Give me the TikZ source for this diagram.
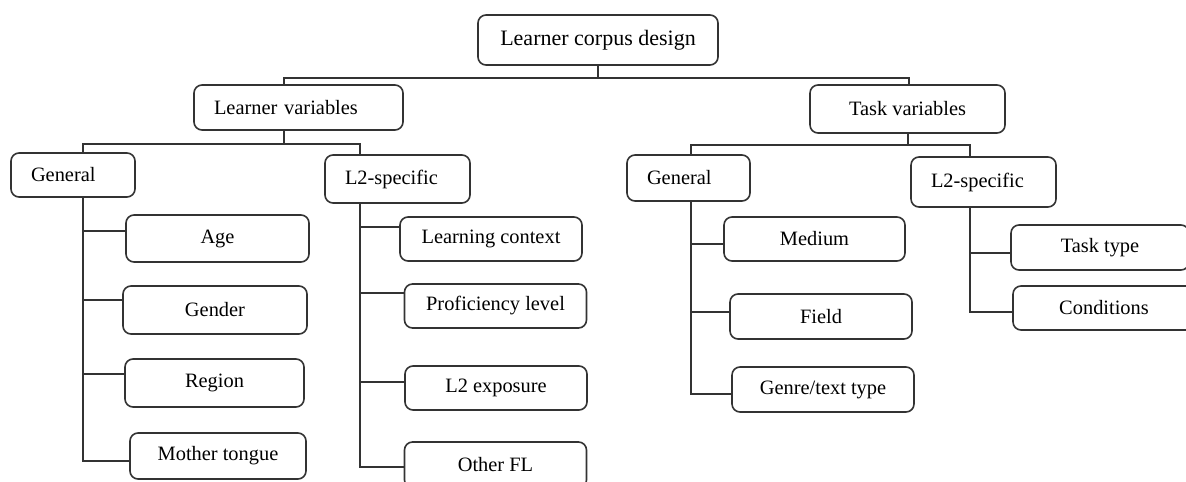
\documentclass[tikz,border=0pt]{standalone}
\usepackage{fontspec}
\setmainfont{Liberation Serif}
\usetikzlibrary{positioning}
\colorlet{boxbrd}{black!80}
\colorlet{linkclr}{black!80}

\begin{document}
\begin{tikzpicture}[
  x=0.5pt, y=-0.5pt,
  every node/.style={font=\fontsize{10.2}{12}\selectfont, align=center},
  box/.style  ={draw=boxbrd, fill=white, line width=0.8pt, rounded corners=4pt, inner sep=2pt},
  rootbox/.style={box, font=\fontsize{11}{13}\selectfont, minimum width=120pt, minimum height=25pt},
  lvl/.style  ={box, align=left, inner xsep=10pt},
  leaf/.style ={box, minimum width=91pt, minimum height=22.5pt},
  link/.style ={draw=linkclr, line width=0.75pt},
]
\clip (0,0) rectangle (1186,481);

%% ── Root ────────────────────────────────────────────────
\node[rootbox] (root) at (598, 40) {Learner corpus design};

%% ── Second level ────────────────────────────────────────
\node[lvl, text width=84.5pt, minimum height=22.5pt] (lv) at (298.5, 107.5) {Learner variables};
\node[box, minimum width=97.5pt, minimum height=24pt] (tv) at (907.5, 109) {Task variables};

\draw[link] (root.south) -- ++(0,12) -| ([xshift=-7.25pt]lv.north);
\draw[link] (root.south) -- ++(0,12) -| ([xshift=0.75pt]tv.north);

%% ════════════════════════════════════════════════════════
%% LEARNER VARIABLES
%% ════════════════════════════════════════════════════════
\node[lvl, text width=42pt, minimum height=22pt]   (genL) at (73, 175)    {General};
\node[lvl, text width=52.5pt, minimum height=24pt] (l2L)  at (397.5, 179) {L2-specific};

\draw[link] ([xshift=-7.25pt]lv.south) -- ++(0,13) -| ([xshift=5pt]genL.north);
\draw[link] ([xshift=-7.25pt]lv.south) -- ++(0,13) -| ([xshift=-18.75pt]l2L.north);

\node[leaf, minimum width=91.5pt, minimum height=23.5pt] (age)    at (217.5, 238.5) {Age};
\node[leaf, minimum width=92pt, minimum height=24pt]     (gender) at (215, 310)     {Gender};
\node[leaf, minimum width=89.5pt, minimum height=24pt]   (region) at (214.5, 383)   {Region};
\node[leaf, minimum width=88pt, minimum height=23pt]     (mother) at (218, 456)     {Mother tongue};

\foreach \n/\s in {age/3.75, gender/5, region/4.5, mother/-2.5}
  \draw[link] ([xshift=5pt]genL.south) |- ([yshift=\s pt]\n.west);

\node[leaf, minimum height=22pt] (lctx)  at (491, 239)   {Learning context};
\node[leaf, minimum height=22pt] (prof)  at (495.5, 306) {Proficiency level};
\node[leaf, minimum height=22pt] (expo)  at (496, 388)   {L2 exposure};
\node[leaf, minimum height=23pt] (other) at (495.5, 465) {Other FL};

\foreach \n/\s in {lctx/6, prof/6.5, expo/3, other/-1}
  \draw[link] ([xshift=-18.75pt]l2L.south) |- ([yshift=\s pt]\n.west);

%% ════════════════════════════════════════════════════════
%% TASK VARIABLES
%% ════════════════════════════════════════════════════════
\node[lvl, text width=41.5pt, minimum height=23pt] (genR) at (688.5, 178) {General};
\node[lvl, text width=52.5pt, minimum height=25pt] (l2R)  at (983.5, 182) {L2-specific};

\draw[link] ([xshift=0.25pt]tv.south) -- ++(0,11) -| ([xshift=1.25pt]genR.north);
\draw[link] ([xshift=0.25pt]tv.south) -- ++(0,11) -| ([xshift=-6.75pt]l2R.north);

\node[leaf, minimum width=90.5pt, minimum height=22pt] (medium) at (814.5, 239)   {Medium};
\node[leaf, minimum height=22.5pt]                     (field)  at (821, 316.5)   {Field};
\node[leaf, minimum height=22.5pt]                     (genre)  at (823, 389.5)   {Genre/text type};

\foreach \n/\s in {medium/-2.5, field/2.25, genre/-2.25}
  \draw[link] ([xshift=1.25pt]genR.south) |- ([yshift=\s pt]\n.west);

\node[leaf, minimum width=89pt, minimum height=22.5pt] (ttype) at (1100, 247.5) {Task type};
\node[leaf, minimum height=22pt]                       (cond)  at (1104, 308)   {Conditions};

\foreach \n/\s in {ttype/-2.75, cond/-2}
  \draw[link] ([xshift=-6.75pt]l2R.south) |- ([yshift=\s pt]\n.west);

\end{tikzpicture}
\end{document}
